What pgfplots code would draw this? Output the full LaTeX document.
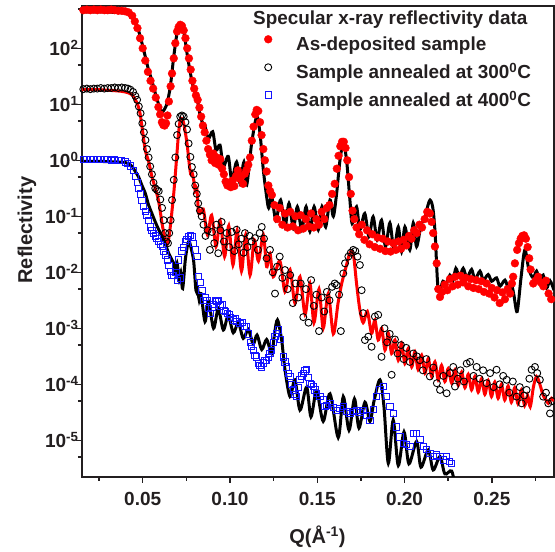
\documentclass[border=0pt]{standalone}
\usepackage{fontspec}
\setmainfont{Liberation Sans}
\usepackage{pgfplots}
\pgfplotsset{compat=1.18}
\definecolor{txt}{RGB}{35,31,32}
\definecolor{dred}{RGB}{255,0,0}
\definecolor{dblue}{RGB}{20,20,255}
\pgfplotsset{myleg/.style={legend image code/.code={\path[draw=none,fill=none] (-6pt,0pt) -- (28pt,0pt); \draw[##1] plot coordinates {(0pt,6.5pt)};}}}
\begin{document}
\begin{tikzpicture}
\begin{axis}[
  name=ax,
  width=472pt, height=471pt, scale only axis,
  xmin=0.01524, xmax=0.2856, ymin=-5.655, ymax=2.755,
  axis line style={line width=1.5pt, txt},
  every tick/.style={line width=1.5pt, txt},
  major tick length=6pt, minor tick length=4pt,
  tick align=outside, tick pos=left,
  xtick={0.05,0.10,0.15,0.20,0.25},
  xticklabels={0.05,0.10,0.15,0.20,0.25},
  minor xtick={0.025,0.075,0.125,0.175,0.225,0.275},
  ytick={-5,-4,-3,-2,-1,0,1,2},
  yticklabels={10\textsuperscript{-5},10\textsuperscript{-4},10\textsuperscript{-3},10\textsuperscript{-2},10\textsuperscript{-1},10\textsuperscript{0},10\textsuperscript{1},10\textsuperscript{2}},
  minor ytick={-5.301,-4.301,-3.301,-2.301,-1.301,-0.301,0.699,1.699,2.699},
  /pgf/number format/assume math mode=true,
  ticklabel style={font=\fontsize{19}{22}\selectfont\bfseries, text=txt},
  xticklabel style={yshift=-6pt},
  yticklabel style={xshift=6pt},
  xlabel={Q(Å\textsuperscript{-1})},
  ylabel={Reflectivity},
  xlabel style={at={(axis description cs:0.499,-0.1274)}, anchor=center, font=\fontsize{20}{24}\selectfont\bfseries, text=txt},
  ylabel style={at={(axis description cs:-0.1165,0.524)}, anchor=center, font=\fontsize{20}{24}\selectfont\bfseries, text=txt},
  legend style={at={(axis description cs:0.3814,0.938)}, anchor=north west, draw=none, fill=none,
    font=\fontsize{18.9}{22}\selectfont\bfseries, text=txt, inner sep=0pt, row sep=9pt,
    nodes={inner sep=0pt, text height=14pt, text depth=4pt}},
  legend cell align=left,
]
% ---------- data: as-deposited ----------
\addplot[only marks, mark=*, mark size=3.9pt, color=dred, myleg] coordinates {
(0.0160,2.68) (0.0180,2.69) (0.0200,2.68) (0.0220,2.69) (0.0240,2.68) (0.0260,2.69) (0.0280,2.68) (0.0300,2.68) (0.0320,2.69) (0.0340,2.68) (0.0360,2.67) (0.0380,2.67) (0.0400,2.66) (0.0420,2.64) (0.0440,2.58) (0.0455,2.48) (0.0470,2.36) (0.0485,2.18) (0.0500,2.00) (0.0515,1.78) (0.0530,1.58) (0.0545,1.42) (0.0560,1.28) (0.0575,1.12) (0.0590,0.95) (0.0600,0.82) (0.0610,0.68) (0.0618,0.63) (0.0626,0.62) (0.0634,0.66) (0.0642,0.80) (0.0650,1.05) (0.0660,1.32) (0.0668,1.55) (0.0678,1.82) (0.0687,2.09) (0.0697,2.30) (0.0706,2.38) (0.0715,2.42) (0.0725,2.40) (0.0735,2.32) (0.0745,2.18) (0.0755,2.00) (0.0765,1.82) (0.0775,1.62) (0.0785,1.42) (0.0795,1.28) (0.0805,1.16) (0.0815,1.08) (0.0825,0.94) (0.0835,0.78) (0.0845,0.62) (0.0855,0.50) (0.0865,0.35) (0.0875,0.20) (0.0885,0.10) (0.0895,0.00) (0.0905,0.12) (0.0915,-0.05) (0.0925,0.05) (0.0935,-0.08) (0.0945,0.02) (0.0955,-0.15) (0.0965,-0.25) (0.0975,-0.38) (0.0985,-0.45) (0.0995,-0.40) (0.1005,-0.48) (0.1015,-0.36) (0.1025,-0.46) (0.1035,-0.28) (0.1045,-0.18) (0.1055,-0.33) (0.1065,-0.29) (0.1075,-0.42) (0.1085,-0.24) (0.1095,-0.17) (0.1105,-0.08) (0.1115,0.05) (0.1125,0.35) (0.1135,0.60) (0.1145,0.82) (0.1153,0.90) (0.1162,0.88) (0.1172,0.68) (0.1181,0.45) (0.1191,0.20) (0.1200,0.00) (0.1210,-0.20) (0.1220,-0.45) (0.1230,-0.55) (0.1240,-0.62) (0.1255,-0.80) (0.1270,-1.05) (0.1285,-0.85) (0.1300,-1.15) (0.1315,-0.95) (0.1330,-1.20) (0.1345,-0.92) (0.1360,-1.18) (0.1375,-1.00) (0.1390,-1.25) (0.1405,-0.98) (0.1420,-1.22) (0.1435,-1.05) (0.1450,-1.18) (0.1465,-0.95) (0.1480,-1.20) (0.1495,-1.05) (0.1510,-1.15) (0.1525,-0.92) (0.1540,-1.05) (0.1555,-0.85) (0.1570,-0.80) (0.1585,-0.60) (0.1600,-0.42) (0.1612,-0.15) (0.1622,0.08) (0.1632,0.25) (0.1642,0.33) (0.1652,0.33) (0.1662,0.22) (0.1672,0.00) (0.1682,-0.30) (0.1692,-0.60) (0.1702,-0.90) (0.1712,-1.05) (0.1725,-1.20) (0.1740,-1.32) (0.1755,-1.15) (0.1770,-1.42) (0.1785,-1.25) (0.1800,-1.50) (0.1815,-1.32) (0.1830,-1.55) (0.1845,-1.38) (0.1860,-1.58) (0.1875,-1.40) (0.1890,-1.62) (0.1905,-1.45) (0.1920,-1.63) (0.1935,-1.48) (0.1950,-1.60) (0.1965,-1.45) (0.1980,-1.58) (0.1995,-1.42) (0.2010,-1.52) (0.2025,-1.35) (0.2040,-1.40) (0.2055,-1.25) (0.2070,-1.30) (0.2085,-1.15) (0.2100,-1.20) (0.2115,-1.05) (0.2130,-0.92) (0.2145,-0.95) (0.2155,-1.10) (0.2164,-1.30) (0.2174,-1.54) (0.2184,-1.84) (0.2193,-2.30) (0.2203,-2.44) (0.2215,-2.35) (0.2230,-2.22) (0.2245,-2.32) (0.2260,-2.12) (0.2275,-2.25) (0.2290,-2.08) (0.2305,-2.22) (0.2320,-2.06) (0.2335,-2.18) (0.2350,-2.10) (0.2365,-2.25) (0.2380,-2.12) (0.2395,-2.28) (0.2410,-2.14) (0.2425,-2.30) (0.2440,-2.16) (0.2455,-2.35) (0.2470,-2.20) (0.2485,-2.38) (0.2500,-2.28) (0.2515,-2.45) (0.2530,-2.32) (0.2545,-2.55) (0.2560,-2.36) (0.2575,-2.48) (0.2590,-2.30) (0.2605,-2.38) (0.2615,-2.20) (0.2622,-2.08) (0.2632,-1.84) (0.2645,-1.60) (0.2655,-1.48) (0.2665,-1.40) (0.2675,-1.35) (0.2685,-1.34) (0.2695,-1.40) (0.2705,-1.55) (0.2714,-1.75) (0.2722,-1.95) (0.2737,-2.20) (0.2750,-2.15) (0.2765,-2.08) (0.2780,-2.18) (0.2795,-2.25) (0.2810,-2.15) (0.2825,-2.38) (0.2840,-2.48)
};
\addlegendentry{As-deposited sample}
% ---------- data: 300 C ----------
\addplot[only marks, mark=o, mark size=3.5pt, color=black, mark options={line width=0.9pt}, myleg] coordinates {
(0.0160,1.27) (0.0180,1.28) (0.0200,1.27) (0.0220,1.28) (0.0240,1.28) (0.0260,1.29) (0.0280,1.28) (0.0300,1.29) (0.0320,1.29) (0.0340,1.30) (0.0360,1.29) (0.0380,1.30) (0.0400,1.29) (0.0415,1.28) (0.0430,1.26) (0.0445,1.22) (0.0458,1.15) (0.0468,1.08) (0.0478,0.96) (0.0488,0.84) (0.0498,0.66) (0.0507,0.50) (0.0516,0.36) (0.0525,0.20) (0.0534,0.05) (0.0543,-0.11) (0.0553,-0.25) (0.0562,-0.40) (0.0572,-0.50) (0.0582,-0.53) (0.0592,-0.55) (0.0601,-0.70) (0.0611,-0.85) (0.0620,-1.07) (0.0628,-1.30) (0.0636,-1.45) (0.0645,-1.48) (0.0652,-1.30) (0.0660,-1.07) (0.0668,-0.71) (0.0678,-0.35) (0.0687,0.05) (0.0697,0.45) (0.0706,0.65) (0.0715,0.78) (0.0725,0.80) (0.0735,0.78) (0.0745,0.68) (0.0754,0.55) (0.0763,0.30) (0.0773,0.06) (0.0782,-0.12) (0.0792,-0.25) (0.0801,-0.45) (0.0810,-0.60) (0.0818,-0.77) (0.0828,-0.90) (0.0838,-1.00) (0.0848,-1.15) (0.0860,-1.35) (0.0872,-1.25) (0.0885,-1.60) (0.0897,-1.28) (0.0910,-1.48) (0.0922,-1.15) (0.0933,-1.66) (0.0945,-1.25) (0.0952,-1.10) (0.0965,-1.45) (0.0981,-1.30) (0.0995,-1.55) (0.1010,-1.28) (0.1025,-1.62) (0.1038,-1.24) (0.1050,-1.50) (0.1065,-1.40) (0.1078,-1.65) (0.1086,-1.30) (0.1100,-1.55) (0.1112,-1.35) (0.1124,-1.45) (0.1143,-1.39) (0.1160,-1.60) (0.1170,-1.30) (0.1182,-1.19) (0.1195,-1.40) (0.1210,-1.75) (0.1229,-1.60) (0.1245,-2.00) (0.1258,-2.38) (0.1270,-1.90) (0.1285,-1.72) (0.1300,-2.10) (0.1315,-1.96) (0.1330,-2.30) (0.1345,-2.05) (0.1360,-2.55) (0.1375,-2.20) (0.1391,-2.45) (0.1405,-2.20) (0.1420,-2.80) (0.1435,-2.30) (0.1450,-2.90) (0.1465,-2.14) (0.1480,-2.60) (0.1495,-2.40) (0.1510,-3.05) (0.1525,-2.45) (0.1540,-2.70) (0.1555,-2.35) (0.1570,-2.50) (0.1585,-2.26) (0.1600,-2.20) (0.1611,-2.23) (0.1625,-2.40) (0.1635,-3.05) (0.1649,-2.02) (0.1659,-1.84) (0.1678,-1.72) (0.1692,-1.65) (0.1706,-1.60) (0.1718,-1.62) (0.1730,-1.72) (0.1744,-1.87) (0.1754,-2.32) (0.1763,-2.73) (0.1773,-3.21) (0.1792,-3.15) (0.1811,-3.33) (0.1830,-2.79) (0.1849,-2.76) (0.1868,-3.51) (0.1885,-3.00) (0.1900,-3.25) (0.1915,-3.10) (0.1926,-3.83) (0.1945,-3.20) (0.1960,-3.45) (0.1980,-3.30) (0.1995,-3.55) (0.2010,-3.35) (0.2030,-3.60) (0.2050,-3.45) (0.2070,-3.50) (0.2088,-3.57) (0.2105,-3.75) (0.2125,-3.55) (0.2145,-3.86) (0.2165,-3.70) (0.2185,-3.98) (0.2203,-4.10) (0.2222,-3.85) (0.2241,-4.16) (0.2260,-3.80) (0.2279,-3.69) (0.2289,-4.04) (0.2305,-3.90) (0.2320,-3.75) (0.2340,-3.95) (0.2356,-3.63) (0.2375,-3.60) (0.2395,-3.85) (0.2413,-3.69) (0.2430,-3.90) (0.2450,-3.75) (0.2470,-3.98) (0.2490,-3.80) (0.2510,-4.05) (0.2527,-3.74) (0.2545,-4.00) (0.2565,-3.85) (0.2585,-3.92) (0.2600,-4.15) (0.2620,-3.95) (0.2642,-4.22) (0.2660,-4.05) (0.2671,-4.34) (0.2685,-4.20) (0.2699,-4.10) (0.2715,-3.90) (0.2728,-3.74) (0.2747,-3.69) (0.2760,-3.80) (0.2775,-3.92) (0.2794,-4.22) (0.2810,-4.15) (0.2823,-4.34) (0.2833,-4.52) (0.2845,-4.30)
};
\addlegendentry{Sample annealed at 300\textsuperscript{0}C}
% ---------- data: 400 C ----------
\addplot[only marks, mark=square, mark size=3.1pt, color=dblue, mark options={line width=0.9pt}, myleg] coordinates {
(0.0160,0.01) (0.0180,0.02) (0.0200,0.01) (0.0220,0.02) (0.0240,0.01) (0.0260,0.02) (0.0280,0.01) (0.0300,0.01) (0.0320,0.00) (0.0340,0.01) (0.0360,0.00) (0.0380,-0.01) (0.0400,-0.03) (0.0415,-0.06) (0.0430,-0.10) (0.0445,-0.18) (0.0458,-0.29) (0.0468,-0.40) (0.0477,-0.50) (0.0486,-0.60) (0.0496,-0.72) (0.0505,-0.83) (0.0515,-0.92) (0.0524,-0.98) (0.0534,-1.08) (0.0543,-1.19) (0.0553,-1.25) (0.0562,-1.30) (0.0572,-1.35) (0.0582,-1.39) (0.0592,-1.45) (0.0601,-1.50) (0.0611,-1.54) (0.0620,-1.62) (0.0630,-1.69) (0.0640,-1.78) (0.0650,-1.88) (0.0660,-1.98) (0.0668,-2.05) (0.0678,-2.05) (0.0690,-2.00) (0.0700,-2.14) (0.0706,-1.78) (0.0716,-2.10) (0.0725,-1.62) (0.0735,-1.55) (0.0745,-1.45) (0.0754,-1.42) (0.0764,-1.36) (0.0773,-1.34) (0.0782,-1.37) (0.0792,-1.48) (0.0802,-1.60) (0.0811,-1.72) (0.0821,-2.08) (0.0830,-2.18) (0.0840,-2.32) (0.0849,-2.50) (0.0858,-2.45) (0.0868,-2.50) (0.0878,-2.64) (0.0887,-2.73) (0.0897,-2.62) (0.0906,-2.58) (0.0916,-2.50) (0.0925,-2.52) (0.0935,-2.50) (0.0945,-2.60) (0.0955,-2.58) (0.0965,-2.68) (0.0975,-2.70) (0.0985,-2.73) (0.0995,-2.75) (0.1005,-2.80) (0.1019,-2.85) (0.1030,-2.82) (0.1040,-2.88) (0.1057,-2.91) (0.1070,-2.90) (0.1085,-2.97) (0.1096,-2.97) (0.1105,-3.10) (0.1115,-3.25) (0.1124,-3.33) (0.1133,-3.40) (0.1143,-3.48) (0.1153,-3.51) (0.1162,-3.63) (0.1172,-3.66) (0.1181,-3.69) (0.1191,-3.62) (0.1200,-3.57) (0.1210,-3.57) (0.1220,-3.52) (0.1229,-3.45) (0.1239,-3.39) (0.1248,-3.25) (0.1258,-3.15) (0.1267,-3.09) (0.1277,-3.03) (0.1290,-3.20) (0.1305,-3.51) (0.1315,-3.60) (0.1325,-3.69) (0.1335,-3.80) (0.1344,-3.86) (0.1353,-4.00) (0.1363,-4.10) (0.1372,-4.18) (0.1382,-4.22) (0.1391,-4.05) (0.1401,-3.92) (0.1410,-3.85) (0.1420,-3.80) (0.1430,-3.76) (0.1439,-3.74) (0.1448,-3.88) (0.1458,-3.98) (0.1468,-4.00) (0.1477,-4.04) (0.1487,-4.10) (0.1496,-4.16) (0.1515,-4.22) (0.1534,-4.28) (0.1544,-4.40) (0.1554,-4.38) (0.1573,-4.34) (0.1592,-4.42) (0.1611,-4.46) (0.1630,-4.43) (0.1649,-4.40) (0.1668,-4.48) (0.1687,-4.52) (0.1706,-4.48) (0.1725,-4.46) (0.1744,-4.50) (0.1763,-4.46) (0.1782,-4.55) (0.1802,-4.64) (0.1821,-4.45) (0.1840,-4.22) (0.1859,-4.10) (0.1878,-4.04) (0.1897,-4.22) (0.1916,-4.40) (0.1935,-4.52) (0.1954,-4.76) (0.1974,-4.94) (0.1993,-5.05) (0.2012,-5.08) (0.2031,-5.11) (0.2050,-4.88) (0.2069,-4.88) (0.2088,-4.99) (0.2107,-5.11) (0.2127,-5.17) (0.2145,-5.23) (0.2164,-5.29) (0.2184,-5.26) (0.2203,-5.29) (0.2222,-5.35) (0.2241,-5.29) (0.2256,-5.38) (0.2270,-5.41)
};
\addlegendentry{Sample annealed at 400\textsuperscript{0}C}
% ---------- fit: as-deposited ----------
\addplot[forget plot, black, line width=3pt, smooth, tension=0.5] coordinates {
(0.0152,2.65) (0.0250,2.65) (0.0350,2.64) (0.0400,2.63) (0.0425,2.61) (0.0439,2.57) (0.0458,2.48) (0.0477,2.31) (0.0496,2.09) (0.0515,1.85) (0.0534,1.61) (0.0553,1.42) (0.0572,1.20) (0.0592,0.99) (0.0607,0.87) (0.0618,0.88) (0.0628,0.93) (0.0640,1.02) (0.0658,1.31) (0.0678,1.85) (0.0697,2.27) (0.0715,2.39) (0.0735,2.30) (0.0754,1.91) (0.0773,1.56) (0.0790,1.30) (0.0805,1.18) (0.0818,1.00) (0.0830,0.78) (0.0845,0.66) (0.0857,0.62) (0.0875,0.38) (0.0901,0.51) (0.0920,0.18) (0.0943,0.27) (0.0962,-0.11) (0.0990,0.07) (0.1010,-0.35) (0.1038,-0.03) (0.1057,-0.41) (0.1080,-0.03) (0.1096,-0.44) (0.1124,0.30) (0.1153,0.78) (0.1172,0.48) (0.1191,-0.17) (0.1210,-0.65) (0.1222,-0.85) (0.1239,-0.65) (0.1263,-1.07) (0.1290,-0.71) (0.1315,-1.19) (0.1338,-0.77) (0.1363,-1.21) (0.1386,-0.83) (0.1411,-1.24) (0.1436,-0.83) (0.1458,-1.27) (0.1482,-0.83) (0.1506,-1.24) (0.1527,-0.83) (0.1548,-1.19) (0.1573,-0.71) (0.1592,-1.00) (0.1611,-0.59) (0.1630,0.00) (0.1649,0.30) (0.1668,0.00) (0.1687,-0.71) (0.1700,-1.13) (0.1725,-0.83) (0.1744,-1.24) (0.1772,-0.95) (0.1796,-1.36) (0.1820,-1.01) (0.1843,-1.42) (0.1868,-1.07) (0.1891,-1.54) (0.1916,-1.12) (0.1939,-1.60) (0.1964,-1.19) (0.1983,-1.63) (0.2002,-1.19) (0.2030,-1.60) (0.2050,-1.12) (0.2069,-1.54) (0.2095,-1.15) (0.2115,-1.05) (0.2130,-0.85) (0.2146,-0.71) (0.2162,-0.85) (0.2175,-1.30) (0.2193,-2.32) (0.2220,-2.16) (0.2237,-2.22) (0.2260,-2.05) (0.2277,-2.15) (0.2294,-1.93) (0.2314,-2.08) (0.2336,-1.93) (0.2357,-2.10) (0.2384,-1.95) (0.2403,-2.13) (0.2432,-1.98) (0.2451,-2.14) (0.2479,-2.04) (0.2499,-2.16) (0.2527,-2.10) (0.2546,-2.25) (0.2575,-2.14) (0.2594,-2.28) (0.2613,-2.23) (0.2626,-2.40) (0.2645,-2.70) (0.2667,-2.10) (0.2689,-1.60) (0.2712,-1.95) (0.2737,-2.10) (0.2756,-1.98) (0.2775,-2.15) (0.2794,-2.05) (0.2814,-2.28) (0.2833,-2.15) (0.2856,-2.32)
};
% ---------- fit: 300 C ----------
\addplot[forget plot, dred, line width=3pt, smooth, tension=0.5] coordinates {
(0.0152,1.26) (0.0250,1.26) (0.0350,1.24) (0.0400,1.22) (0.0439,1.17) (0.0468,1.02) (0.0484,0.85) (0.0496,0.60) (0.0515,0.18) (0.0534,-0.02) (0.0553,-0.29) (0.0572,-0.50) (0.0592,-0.74) (0.0611,-1.13) (0.0628,-1.40) (0.0639,-1.51) (0.0648,-1.42) (0.0658,-1.19) (0.0668,-0.90) (0.0678,-0.59) (0.0687,-0.25) (0.0697,0.15) (0.0706,0.50) (0.0715,0.72) (0.0722,0.75) (0.0735,0.66) (0.0754,0.30) (0.0765,-0.02) (0.0775,-0.25) (0.0783,-0.22) (0.0792,-0.35) (0.0801,-0.55) (0.0810,-0.50) (0.0822,-0.95) (0.0847,-0.87) (0.0871,-1.33) (0.0895,-0.98) (0.0920,-1.54) (0.0944,-1.08) (0.0969,-1.72) (0.0993,-1.17) (0.1017,-1.87) (0.1041,-1.25) (0.1066,-1.98) (0.1090,-1.33) (0.1115,-2.05) (0.1139,-1.42) (0.1163,-1.80) (0.1191,-1.33) (0.1210,-1.90) (0.1229,-1.66) (0.1248,-2.08) (0.1286,-1.80) (0.1315,-2.35) (0.1344,-1.95) (0.1372,-2.55) (0.1401,-2.08) (0.1430,-2.75) (0.1458,-2.20) (0.1481,-2.90) (0.1510,-2.30) (0.1534,-3.00) (0.1563,-2.38) (0.1592,-3.10) (0.1619,-2.55) (0.1640,-2.20) (0.1665,-1.90) (0.1682,-1.70) (0.1697,-1.62) (0.1710,-1.75) (0.1725,-2.20) (0.1744,-2.67) (0.1763,-2.90) (0.1787,-2.70) (0.1811,-3.09) (0.1830,-2.85) (0.1849,-3.21) (0.1869,-3.00) (0.1888,-3.39) (0.1907,-3.09) (0.1926,-3.45) (0.1945,-3.21) (0.1964,-3.57) (0.1983,-3.27) (0.2002,-3.63) (0.2021,-3.36) (0.2041,-3.69) (0.2059,-3.42) (0.2078,-3.74) (0.2098,-3.48) (0.2117,-3.80) (0.2136,-3.54) (0.2155,-3.86) (0.2174,-3.60) (0.2193,-3.92) (0.2212,-3.66) (0.2231,-3.95) (0.2250,-3.72) (0.2270,-3.98) (0.2289,-3.74) (0.2308,-4.02) (0.2327,-3.78) (0.2346,-4.06) (0.2365,-3.82) (0.2384,-4.10) (0.2403,-3.86) (0.2422,-4.14) (0.2441,-3.90) (0.2460,-4.18) (0.2479,-3.93) (0.2498,-4.22) (0.2517,-3.96) (0.2536,-4.25) (0.2555,-4.00) (0.2574,-4.28) (0.2593,-4.03) (0.2612,-4.32) (0.2631,-4.06) (0.2650,-4.35) (0.2669,-4.10) (0.2688,-4.38) (0.2705,-4.20) (0.2720,-4.40) (0.2738,-4.05) (0.2756,-3.86) (0.2775,-4.00) (0.2794,-4.20) (0.2810,-4.28) (0.2823,-4.34) (0.2842,-4.25) (0.2856,-4.30)
};
% ---------- fit: 400 C ----------
\addplot[forget plot, black, line width=3pt, smooth, tension=0.5] coordinates {
(0.0152,-0.02) (0.0250,-0.02) (0.0350,-0.03) (0.0400,-0.04) (0.0420,-0.06) (0.0439,-0.11) (0.0458,-0.20) (0.0477,-0.30) (0.0496,-0.45) (0.0515,-0.59) (0.0534,-0.80) (0.0553,-0.95) (0.0572,-1.10) (0.0592,-1.24) (0.0611,-1.36) (0.0630,-1.50) (0.0649,-1.66) (0.0668,-1.78) (0.0678,-1.84) (0.0687,-2.02) (0.0697,-1.84) (0.0710,-2.14) (0.0718,-2.00) (0.0729,-2.29) (0.0744,-1.78) (0.0758,-1.50) (0.0767,-1.45) (0.0778,-1.58) (0.0792,-1.80) (0.0805,-2.32) (0.0814,-2.28) (0.0824,-2.50) (0.0834,-2.38) (0.0857,-2.88) (0.0877,-2.52) (0.0906,-3.00) (0.0933,-2.65) (0.0962,-3.03) (0.0990,-2.77) (0.1019,-3.08) (0.1048,-2.90) (0.1076,-3.18) (0.1105,-3.02) (0.1133,-3.28) (0.1155,-3.12) (0.1182,-3.38) (0.1210,-3.20) (0.1239,-3.45) (0.1255,-3.10) (0.1272,-2.85) (0.1296,-3.21) (0.1315,-3.74) (0.1344,-4.22) (0.1372,-3.92) (0.1401,-4.46) (0.1439,-4.05) (0.1464,-4.58) (0.1496,-4.12) (0.1534,-4.66) (0.1573,-4.17) (0.1620,-4.95) (0.1649,-4.22) (0.1682,-4.82) (0.1713,-4.26) (0.1739,-4.78) (0.1773,-4.32) (0.1802,-4.66) (0.1825,-4.30) (0.1859,-3.92) (0.1882,-4.40) (0.1907,-5.41) (0.1935,-4.64) (0.1964,-5.45) (0.1997,-4.85) (0.2025,-5.42) (0.2069,-5.02) (0.2094,-5.48) (0.2136,-5.17) (0.2164,-5.53) (0.2203,-5.29) (0.2231,-5.60) (0.2270,-5.55) (0.2294,-5.90)
};
\end{axis}
\node[anchor=west, inner sep=0pt, font=\fontsize{18.9}{22}\selectfont\bfseries, text=txt] at ([shift={(171pt,-14pt)}]ax.north west) {Specular x-ray reflectivity data};
\pgfresetboundingbox
\path ([shift={(-82pt,-75pt)}]ax.south west) rectangle ([shift={(1pt,6pt)}]ax.north east);
\end{tikzpicture}
\end{document}
